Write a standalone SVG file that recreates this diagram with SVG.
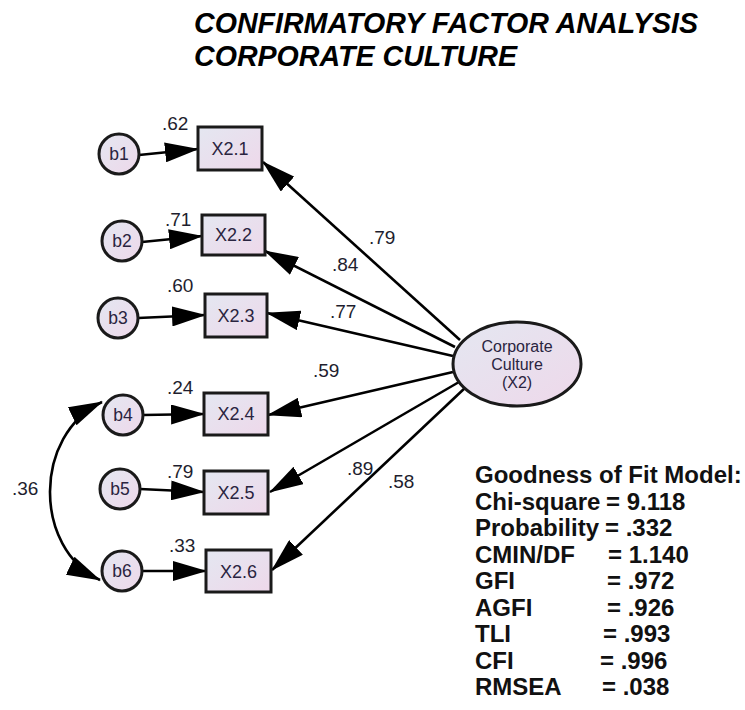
<svg xmlns="http://www.w3.org/2000/svg" width="745" height="710" viewBox="0 0 745 710">
<defs>
<linearGradient id="fillGrad" x1="0" y1="0" x2="1" y2="1">
<stop offset="0" stop-color="#e4e7f1"/>
<stop offset="1" stop-color="#eed8ea"/>
</linearGradient>
<marker id="arr" markerUnits="userSpaceOnUse" markerWidth="34" markerHeight="20" refX="33" refY="10" orient="auto-start-reverse" viewBox="0 0 34 20">
<path d="M0,0 L34,10 L0,20 z" fill="#000"/>
</marker>
<style>
.node{fill:url(#fillGrad);stroke:#1a1a1a;stroke-width:3}
.lbl{font-family:"Liberation Sans",Arial,sans-serif;fill:#1e1e2e}
.nt{font-family:"Liberation Sans",Arial,sans-serif;fill:#2a2440;text-anchor:middle}
.path{stroke:#000;stroke-width:2.6;fill:none;marker-end:url(#arr)}
.fit{font-family:"Liberation Sans",Arial,sans-serif;font-weight:bold;font-size:24px;fill:#111}
</style>
</defs>
<rect width="745" height="710" fill="#fff"/>
<g id="title" font-family="'Liberation Sans',Arial,sans-serif" font-weight="bold" font-style="italic" font-size="28.6" fill="#000">
<text x="194" y="33">CONFIRMATORY FACTOR ANALYSIS</text>
<text x="194" y="66">CORPORATE CULTURE</text>
</g>
<g id="connectors">
<line class="path" x1="460" y1="340" x2="263" y2="162"/>
<line class="path" x1="455" y1="347" x2="265" y2="251"/>
<line class="path" x1="453" y1="356" x2="267" y2="313"/>
<line class="path" x1="453" y1="372" x2="268" y2="415"/>
<line class="path" x1="459" y1="382" x2="270" y2="492"/>
<line class="path" x1="466" y1="387" x2="272" y2="570"/>
<line class="path" x1="139" y1="155" x2="198" y2="149"/>
<line class="path" x1="142" y1="242" x2="202" y2="236"/>
<line class="path" x1="138" y1="318" x2="205" y2="315"/>
<line class="path" x1="143" y1="415" x2="204" y2="414"/>
<line class="path" x1="140" y1="489" x2="204" y2="492"/>
<line class="path" x1="142" y1="571" x2="206" y2="571"/>
<path class="path" d="M102,402 C33,435 33,548 100,580" marker-start="url(#arr)"/>
</g>
<g id="labels" class="lbl" font-size="19">
<text x="162" y="130">.62</text>
<text x="165" y="226">.71</text>
<text x="167" y="292">.60</text>
<text x="167" y="394">.24</text>
<text x="167" y="478">.79</text>
<text x="169" y="552">.33</text>
<text x="12" y="495">.36</text>
<text x="369" y="244">.79</text>
<text x="332" y="271">.84</text>
<text x="330" y="318">.77</text>
<text x="313" y="377">.59</text>
<text x="347" y="475">.89</text>
<text x="388" y="488">.58</text>
</g>
<g id="X2.1"><rect class="node" x="198" y="127" width="64" height="43"/><text class="nt" x="230" y="155" font-size="18">X2.1</text></g>
<g id="X2.2"><rect class="node" x="202" y="215" width="63" height="40"/><text class="nt" x="233.5" y="241" font-size="18">X2.2</text></g>
<g id="X2.3"><rect class="node" x="205" y="294" width="62" height="43"/><text class="nt" x="236" y="322" font-size="18">X2.3</text></g>
<g id="X2.4"><rect class="node" x="204" y="393" width="64" height="42"/><text class="nt" x="236" y="420" font-size="18">X2.4</text></g>
<g id="X2.5"><rect class="node" x="204" y="471" width="64" height="43"/><text class="nt" x="236" y="499" font-size="18">X2.5</text></g>
<g id="X2.6"><rect class="node" x="206" y="550" width="65" height="42"/><text class="nt" x="238.5" y="578" font-size="18">X2.6</text></g>
<g id="b1"><circle class="node" cx="119" cy="154" r="20"/><text class="nt" x="119" y="160" font-size="17.5">b1</text></g>
<g id="b2"><circle class="node" cx="122" cy="241" r="20"/><text class="nt" x="122" y="247" font-size="17.5">b2</text></g>
<g id="b3"><circle class="node" cx="118" cy="318" r="20"/><text class="nt" x="118" y="324" font-size="17.5">b3</text></g>
<g id="b4"><circle class="node" cx="123" cy="415" r="20"/><text class="nt" x="123" y="421" font-size="17.5">b4</text></g>
<g id="b5"><circle class="node" cx="120" cy="489" r="20"/><text class="nt" x="120" y="495" font-size="17.5">b5</text></g>
<g id="b6"><circle class="node" cx="122" cy="571" r="20"/><text class="nt" x="122" y="577" font-size="17.5">b6</text></g>
<g id="X2"><ellipse class="node" cx="517" cy="364" rx="64" ry="42"/>
<text class="nt" x="517" y="352" font-size="16">Corporate</text>
<text class="nt" x="517" y="370" font-size="16">Culture</text>
<text class="nt" x="517" y="388" font-size="16">(X2)</text></g>
<g id="fit" class="fit">
<text x="475" y="483">Goodness of Fit Model:</text>
<text x="475" y="509.5">Chi-square <tspan x="606">= 9.118</tspan></text>
<text x="475" y="536">Probability <tspan x="605">= .332</tspan></text>
<text x="475" y="562.5">CMIN/DF <tspan x="608">= 1.140</tspan></text>
<text x="475" y="589">GFI <tspan x="607">= .972</tspan></text>
<text x="475" y="615.5">AGFI <tspan x="607">= .926</tspan></text>
<text x="475" y="642">TLI <tspan x="603">= .993</tspan></text>
<text x="475" y="668.5">CFI <tspan x="600">= .996</tspan></text>
<text x="475" y="695">RMSEA <tspan x="602">= .038</tspan></text>
</g>
</svg>
